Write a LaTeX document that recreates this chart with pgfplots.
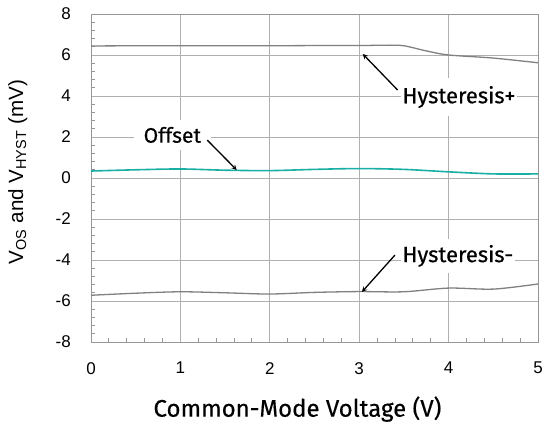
\documentclass[border=0pt]{standalone}
\usepackage{fontspec}
\setmainfont{Liberation Sans}
\newfontfamily\dinfont[FakeBold=0.4]{Fira Sans}
\usepackage{pgfplots}
\pgfplotsset{compat=1.18}
\definecolor{gridc}{RGB}{175,175,175}
\definecolor{framec}{RGB}{150,150,150}
\definecolor{hystc}{RGB}{128,128,128}
\definecolor{offc}{RGB}{25,175,165}
\begin{document}
\begin{tikzpicture}
\begin{axis}[
  scale only axis,
  width=447bp, height=328bp,
  xmin=0, xmax=5, ymin=-8, ymax=8,
  xtick={0,1,2,3,4,5},
  ytick={-8,-6,-4,-2,0,2,4,6,8},
  yticklabels={-8,-6,-4,-2,0,2,4,6,8},
  xticklabels={0,1,2,3,4,5},
  minor x tick num=4,
  minor y tick num=4,
  grid=major,
  major grid style={gridc, line width=0.9bp},
  axis line style={framec, line width=0.9bp},
  tick style={framec, line width=0.9bp},
  major tick length=0pt,
  minor tick length=4bp,
  tick align=inside,
  xtick pos=bottom, ytick pos=left,
  tick label style={font=\fontsize{17bp}{17bp}\selectfont},
  xticklabel style={inner sep=0pt, anchor=north, yshift=-20bp},
  yticklabel style={inner sep=0pt, anchor=east, xshift=-20bp},
  xlabel={\dinfont Common-Mode Voltage (V)},
  ylabel={V\textsubscript{OS} and V\textsubscript{HYST} (mV)},
  xlabel style={font=\fontsize{24bp}{24bp}\selectfont, at={(axis description cs:0.5,0)}, anchor=south, inner sep=0pt, yshift=-80bp, xshift=-17bp},
  ylabel style={font=\fontsize{20.6bp}{20.6bp}\selectfont, at={(axis description cs:-0.1857,0.518)}, anchor=north, inner sep=0pt},
  clip=false,
]
\addplot[hystc, line width=1.3bp, smooth] coordinates {
 (0,6.44) (0.5,6.45) (1,6.45) (1.5,6.45) (2,6.45) (2.5,6.46) (3,6.46) (3.3,6.48) (3.5,6.45) (3.75,6.2) (4,6.0) (4.5,5.85) (5,5.62)};
\addplot[offc, line width=1.6bp, smooth] coordinates {
 (0,0.34) (0.5,0.4) (1,0.44) (1.5,0.38) (2,0.36) (2.5,0.42) (3,0.46) (3.5,0.42) (4,0.3) (4.5,0.2) (5,0.2)};
\addplot[hystc, line width=1.3bp, smooth] coordinates {
 (0,-5.72) (0.5,-5.62) (1,-5.55) (1.5,-5.6) (2,-5.66) (2.5,-5.58) (3,-5.54) (3.5,-5.55) (4,-5.37) (4.5,-5.42) (5,-5.17)};
\node[anchor=west, fill=white, inner xsep=2bp, inner ysep=8bp, font=\dinfont\fontsize{22bp}{22bp}\selectfont] at (axis cs:3.46,3.95) {Hysteresis+};
\draw[-stealth, line width=1.3bp] (axis cs:3.43,4.29) -- (axis cs:3.04,6.05);
\node[anchor=west, fill=white, inner xsep=2bp, inner ysep=6bp, font=\dinfont\fontsize{22bp}{22bp}\selectfont] at (axis cs:3.46,-3.8) {Hysteresis-};
\draw[-stealth, line width=1.3bp] (axis cs:3.40,-3.76) -- (axis cs:3.03,-5.56);
\node[anchor=center, fill=white, inner xsep=10bp, inner ysep=7bp, font=\dinfont\fontsize{21bp}{21bp}\selectfont] at (axis cs:0.91,2.1) {Offset};
\draw[-stealth, line width=1.3bp] (axis cs:1.30,1.85) -- (axis cs:1.63,0.39);
\end{axis}
\pgfresetboundingbox
\path[use as bounding box] (current axis.south west) ++(-91bp,-83bp) rectangle ([xshift=7bp,yshift=14bp]current axis.north east);
\end{tikzpicture}
\end{document}
